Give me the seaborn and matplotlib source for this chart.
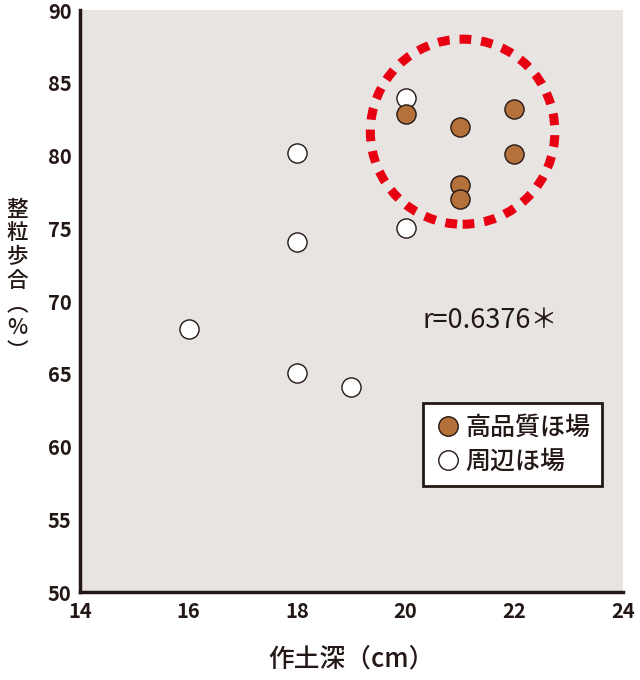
import matplotlib
matplotlib.use('Agg')
import matplotlib.pyplot as plt
from matplotlib.patches import Ellipse
from matplotlib.lines import Line2D
import numpy as np
import pandas as pd
import seaborn as sns

# data
high_x = [20, 21, 21, 21, 22, 22]
high_y = [82.9, 82.0, 78.0, 77.0, 83.2, 80.1]
around_x = [16, 18, 18, 18, 19, 20, 20]
around_y = [68.1, 80.2, 74.1, 65.1, 64.1, 84.0, 75.0]
group_names = ['高品質ほ場', '周辺ほ場']
x_ticks = [14, 16, 18, 20, 22, 24]
y_ticks = [50, 55, 60, 65, 70, 75, 80, 85, 90]
r_text = 'r=0.6376＊'

sns.set_theme(style='white')
plt.rcParams['font.family'] = ['Noto Sans CJK JP', 'DejaVu Sans']

ink = '#231815'
brown = '#b5713a'
red = '#e60012'

df = pd.DataFrame({
    'x': high_x + around_x,
    'y': high_y + around_y,
    'group': [group_names[0]] * len(high_x) + [group_names[1]] * len(around_x),
})

fig = plt.figure(figsize=(6.4, 6.8), dpi=100)
ax = fig.add_axes([0.125, 0.129, 0.848, 0.856])
ax.set_facecolor('#e8e4e1')

# draw white ones first so brown sit on top like the original
sns.scatterplot(data=df[df.group == group_names[1]], x='x', y='y', color='white',
                edgecolor=ink, linewidth=1.0, s=190, ax=ax, legend=False, zorder=3)
sns.scatterplot(data=df[df.group == group_names[0]], x='x', y='y', color=brown,
                edgecolor=ink, linewidth=1.0, s=190, ax=ax, legend=False, zorder=4)

# red dotted ring around the high-quality fields
ring = Ellipse((21.05, 81.65), width=2 * 1.70, height=2 * 6.36, fill=False,
               edgecolor=red, linewidth=6.5, linestyle=(0, (1.3, 1.1)), zorder=2)
ax.add_patch(ring)

ax.text(21.55, 68.7, r_text, fontsize=19.5, color=ink, ha='center', va='center')

ax.set_xlim(14, 24)
ax.set_ylim(50, 90)
ax.set_xticks(x_ticks)
ax.set_yticks(y_ticks)
ax.tick_params(direction='in', length=6, width=1.2, color=ink, labelsize=14.5,
               labelcolor=ink, pad=6)
for lab in ax.get_xticklabels() + ax.get_yticklabels():
    lab.set_fontweight('bold')
for side in ['top', 'right']:
    ax.spines[side].set_visible(False)
for side in ['left', 'bottom']:
    ax.spines[side].set_color(ink)
    ax.spines[side].set_linewidth(2.5)

ax.set_xlabel('作土深（cm）', fontsize=18.5, color=ink, labelpad=17, fontweight='medium')
ax.set_ylabel('')
fig.text(0.027, 0.587, '\n'.join('整粒歩合︵%︶'), fontsize=15.5, color=ink,
         ha='center', va='center', linespacing=1.1, fontweight='medium')

handles = [
    Line2D([0], [0], marker='o', linestyle='', markersize=14, markerfacecolor=brown,
           markeredgecolor=ink, markeredgewidth=1.0),
    Line2D([0], [0], marker='o', linestyle='', markersize=14, markerfacecolor='white',
           markeredgecolor=ink, markeredgewidth=1.0),
]
leg = ax.legend(handles, group_names, loc='upper left', bbox_to_anchor=(0.632, 0.325),
                borderaxespad=0, fontsize=18, frameon=True, fancybox=False,
                handletextpad=0.15, borderpad=0.45, labelspacing=0.35, handlelength=1.1)
leg.get_frame().set_edgecolor(ink)
leg.get_frame().set_linewidth(2)
leg.get_frame().set_facecolor('white')
leg.get_frame().set_alpha(1)
for t in leg.get_texts():
    t.set_color(ink)
    t.set_fontweight('medium')

fig.savefig('out.png', dpi=100)
